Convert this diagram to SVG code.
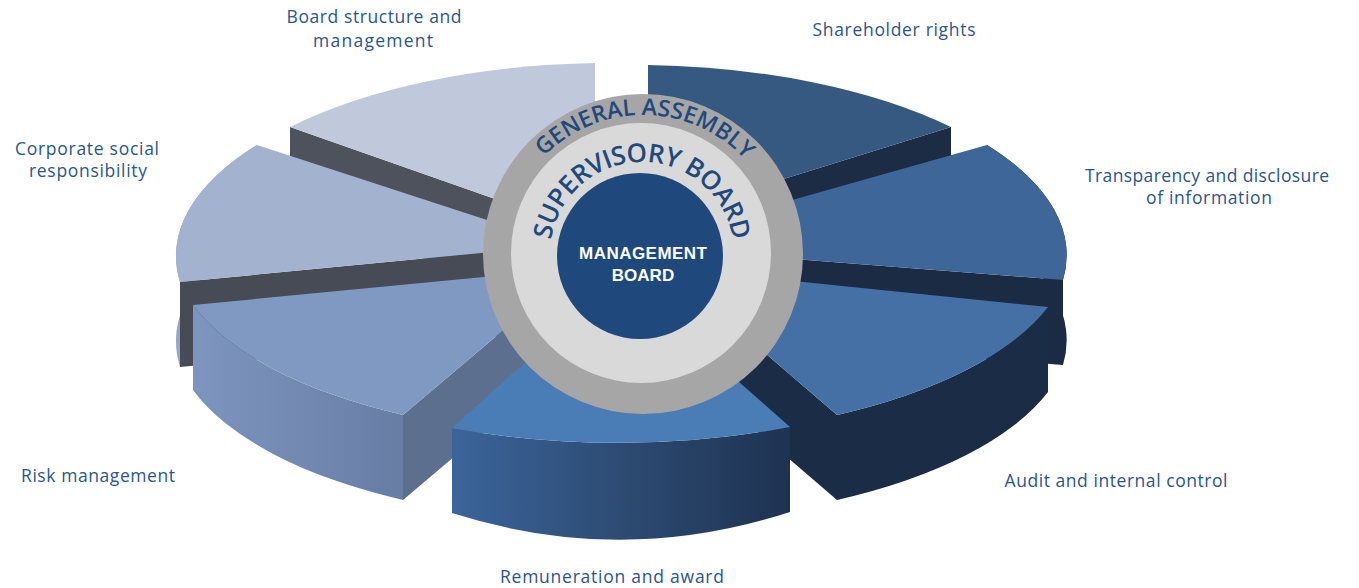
<svg xmlns="http://www.w3.org/2000/svg" xmlns:xlink="http://www.w3.org/1999/xlink" width="1359" height="588" viewBox="0 0 1359 588">
  <style>
    .label { font-family: "Open Sans", "Liberation Sans", sans-serif; font-size: 17.5px; fill: #2B5689; text-anchor: middle; }
    .arc { font-family: "Open Sans", "Liberation Sans", sans-serif; font-weight: 600; fill: #1F497D; }
    .core { font-family: "Liberation Sans", Arial, sans-serif; font-weight: bold; font-size: 17px; fill: #FFFFFF; text-anchor: middle; }
  </style>
  <defs>
    <linearGradient id="riskSide" gradientUnits="userSpaceOnUse" x1="193" y1="0" x2="403" y2="0">
      <stop offset="0" stop-color="#7D95BF"/>
      <stop offset="1" stop-color="#687DA4"/>
    </linearGradient>
    <linearGradient id="remSide" gradientUnits="userSpaceOnUse" x1="452" y1="0" x2="790" y2="0">
      <stop offset="0" stop-color="#3B659B"/>
      <stop offset="0.5" stop-color="#2D4B73"/>
      <stop offset="1" stop-color="#1E3251"/>
    </linearGradient>
    <!-- baselines for the ring captions, centred on the hub -->
    <path id="gaPath" d="M 504 254 A 139 139 0 0 1 782 254"/>
    <path id="sbPath" d="M 550 254 A 92 92 0 0 1 734 254"/>
  </defs>
  <rect width="1359" height="588" fill="#FFFFFF"/>

  <!-- pie slices, drawn back to front -->
  <g id="board-structure">
    <path d="M 290 127 L 595 234 L 595 319 L 290 212 Z" fill="#4D525C"/>
    <path d="M 595 234 L 595 63 A 430 190 0 0 0 290 127 Z" fill="#BFC9DB"/>
    <text class="label" x="374" y="23" textLength="175">Board structure and</text>
    <text class="label" x="373" y="47" textLength="120">management</text>
  </g>

  <g id="shareholder-rights">
    <path d="M 951 127 L 648 221 L 648 306 L 951 212 Z" fill="#1B2C44"/>
    <path d="M 648 221 L 648 65 A 430 190 0 0 1 951 127 Z" fill="#355981"/>
    <text class="label" x="894" y="36" textLength="163">Shareholder rights</text>
  </g>

  <g id="corporate-social-responsibility">
    <path d="M 257 145 A 430 190 0 0 0 180 282 L 180 367 A 430 190 0 0 1 257 230 Z" fill="#97A8C6"/>
    <path d="M 180 282 L 564 245 L 564 330 L 180 367 Z" fill="#464B56"/>
    <path d="M 564 245 L 257 145 A 430 190 0 0 0 180 282 Z" fill="#A3B3CF"/>
    <text class="label" x="87" y="155" textLength="144">Corporate social</text>
    <text class="label" x="88" y="177" textLength="118">responsibility</text>
  </g>

  <g id="transparency-disclosure">
    <path d="M 987 145 A 430 190 0 0 1 1063 280 L 1063 365 A 430 190 0 0 0 987 230 Z" fill="#1B2B43"/>
    <path d="M 1063 280 L 629 246 L 629 331 L 1063 365 Z" fill="#1B2B43"/>
    <path d="M 629 246 L 987 145 A 430 190 0 0 1 1063 280 Z" fill="#3E6698"/>
    <text class="label" x="1207" y="182" textLength="244">Transparency and disclosure</text>
    <text class="label" x="1209" y="204" textLength="126">of information</text>
  </g>

  <g id="risk-management">
    <path d="M 403 415 L 577 268 L 577 353 L 403 500 Z" fill="#5C6F8F"/>
    <path d="M 193 305 A 430 190 0 0 0 403 415 L 403 500 A 430 190 0 0 1 193 390 Z" fill="url(#riskSide)"/>
    <path d="M 577 268 L 193 305 A 430 190 0 0 0 403 415 Z" fill="#7F99C2"/>
    <text class="label" x="98" y="482" textLength="154">Risk management</text>
  </g>

  <g id="audit-internal-control">
    <path d="M 837 415 L 666 268 L 666 353 L 837 500 Z" fill="#1B2D46"/>
    <path d="M 1048 307 A 430 190 0 0 1 837 415 L 837 500 A 430 190 0 0 0 1048 392 Z" fill="#1B2D46"/>
    <path d="M 666 268 L 1048 307 A 430 190 0 0 1 837 415 Z" fill="#4570A5"/>
    <text class="label" x="1116" y="487" textLength="223">Audit and internal control</text>
  </g>

  <g id="remuneration-award">
    <path d="M 452 428 A 430 190 0 0 0 790 427 L 790 512 Q 621 567 452 513 Z" fill="url(#remSide)"/>
    <path d="M 620 277 L 452 428 A 430 190 0 0 0 790 427 Z" fill="#4A7DB5"/>
    <text class="label" x="612" y="583" textLength="224">Remuneration and award</text>
  </g>

  <!-- governance hub -->
  <g id="general-assembly">
    <circle cx="643" cy="254" r="160" fill="#A6A6A6"/>
    <text class="arc" font-size="23"><textPath xlink:href="#gaPath" href="#gaPath" startOffset="50.5%" text-anchor="middle">GENERAL ASSEMBLY</textPath></text>
  </g>
  <g id="supervisory-board">
    <circle cx="641" cy="253" r="130" fill="#D9D9D9"/>
    <text class="arc" font-size="26" letter-spacing="-0.5"><textPath xlink:href="#sbPath" href="#sbPath" startOffset="50%" text-anchor="middle">SUPERVISORY BOARD</textPath></text>
  </g>
  <g id="management-board">
    <circle cx="640" cy="256" r="83" fill="#1F497D"/>
    <text class="core" x="643" y="259" textLength="128">MANAGEMENT</text>
    <text class="core" x="643" y="281">BOARD</text>
  </g>
</svg>
